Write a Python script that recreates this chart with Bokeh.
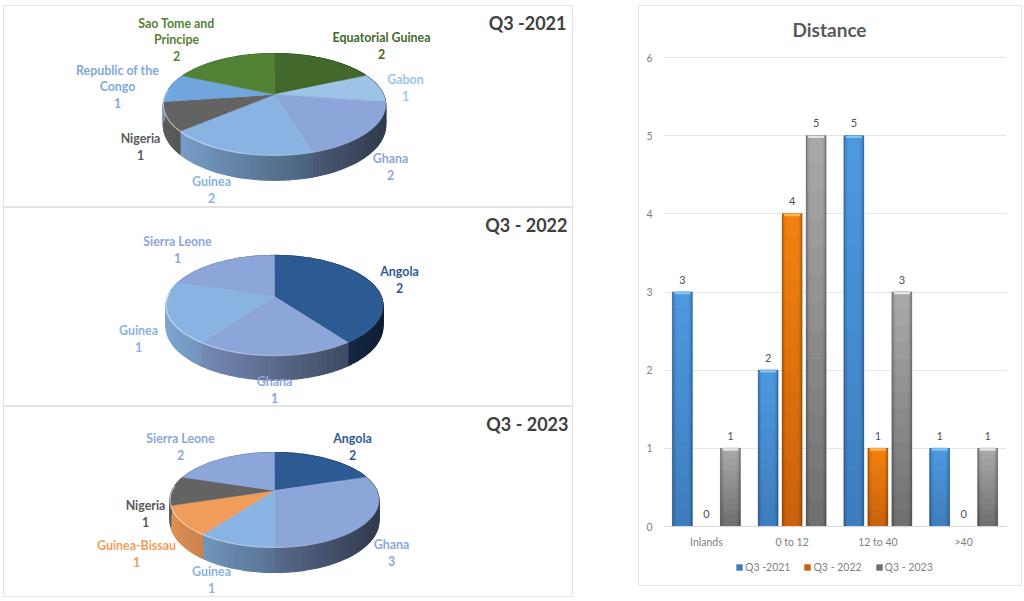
from math import sin, cos, pi

from bokeh.core.properties import value as fixed
from bokeh.embed import file_html
from bokeh.layouts import column, row
from bokeh.models import ColumnDataSource, FactorRange, Label, Legend, LegendItem, Range1d
from bokeh.plotting import figure
from bokeh.resources import INLINE
from bokeh.transform import dodge

FONT = "Lato"
PANEL_EDGE = {"border": "1px solid #e4e4e4"}

# pies, clockwise from 12 o'clock
names_2021 = ["Equatorial Guinea", "Gabon", "Ghana", "Guinea", "Nigeria", "Republic of the\nCongo", "Sao Tome and\nPrincipe"]
values_2021 = [2, 1, 2, 2, 1, 1, 2]
names_2022 = ["Angola", "Ghana", "Guinea", "Sierra Leone"]
values_2022 = [2, 1, 1, 1]
names_2023 = ["Angola", "Ghana", "Guinea", "Guinea-Bissau", "Nigeria", "Sierra Leone"]
values_2023 = [2, 3, 1, 1, 1, 2]

# bars
categories = ["Inlands", "0 to 12", "12 to 40", ">40"]
q3_2021 = [3, 2, 5, 1]
q3_2022 = [0, 4, 1, 0]
q3_2023 = [1, 5, 3, 1]

NAVY, PERI, SKY, PALE, GREY = "#2c5a93", "#8da6da", "#88b3e2", "#9dc3e6", "#636363"
colors_2021 = ["#43682b", PALE, PERI, SKY, GREY, "#70a5dd", "#548235"]
colors_2022 = [NAVY, PERI, SKY, PERI]
colors_2023 = [NAVY, PERI, SKY, "#f09d5c", GREY, PERI]
label_2021 = ["#43682b", PALE, PERI, SKY, "#595959", "#7fa9db", "#548235"]
label_2022 = [NAVY, PERI, SKY, PERI]
label_2023 = [NAVY, PERI, SKY, "#f09d5c", "#595959", PERI]

# where the labels sit on the picture (first line)
spots_2021 = [(381, 37), (405, 79), (390, 158), (211, 181), (140, 138), (117, 70), (176, 23)]
spots_2022 = [(399, 271), (274, 381), (138, 330), (177, 241)]
spots_2023 = [(352, 438), (391, 544), (211, 571), (136, 545), (145, 505), (180, 438)]


def mix(color, factor):
    "darken a hex colour"
    rgb = [int(color[i:i + 2], 16) * factor for i in (1, 3, 5)]
    return "#%02x%02x%02x" % tuple(int(c) for c in rgb)


def blend(a, b, t):
    ca = [int(a[i:i + 2], 16) for i in (1, 3, 5)]
    cb = [int(b[i:i + 2], 16) for i in (1, 3, 5)]
    return "#%02x%02x%02x" % tuple(int(x + (y - x) * t) for x, y in zip(ca, cb))


def pie_panel(title, names, values, colors, label_colors, spots, box, hub, rx, ry, persp, depth, title_at):
    left, top, right, bottom = box
    cx, cy = hub

    def rim(deg):
        a = deg * pi / 180
        s = 1 / (1 + persp * cos(a))
        return cx + rx * sin(a) * s, cy - ry * cos(a) * s, s

    # the css border pushes the canvas one pixel in, hence the +1
    p = figure(width=right - left, height=bottom - top, output_backend="svg", toolbar_location=None,
               x_range=Range1d(left + 1, right + 1), y_range=Range1d(bottom + 1, top + 1),
               min_border=0, x_axis_type=None, y_axis_type=None, styles=PANEL_EDGE)
    p.grid.visible = False
    p.outline_line_color = None

    total = sum(values)
    start = 0
    wall_x, wall_y, wall_c = [], [], []
    rim_x, rim_y, rim_a = [], [], []
    top_x, top_y = [], []
    for value, color in zip(values, colors):
        end = start + 360 * value / total
        n = max(int((end - start) / 2), 1)
        steps = [start + (end - start) * k / n for k in range(n + 1)]
        xs, ys = [cx], [cy]
        for k, d in enumerate(steps):
            x, y, s = rim(d)
            xs.append(x)
            ys.append(y)
            if k == n:
                continue
            x2, y2, s2 = rim(steps[k + 1])
            t = ((x + x2) / 2 - (cx - rx)) / (2 * rx)
            wall_x.append([x, x2, x2, x])
            wall_y.append([y, y2, y2 + depth * s2, y + depth * s])
            wall_c.append(mix(color, 0.92 - 0.56 * t))
            rim_x.append([x, x2])
            rim_y.append([y, y2])
            rim_a.append(max(0.55 * (1 - t), 0.05) if cos(steps[k] * pi / 180) < 0.1 else 0)
        top_x.append(xs)
        top_y.append(ys)
        start = end

    p.patches(wall_x, wall_y, fill_color=wall_c, line_color=wall_c, line_width=1.2)
    p.patches(top_x, top_y, fill_color=colors, line_color=colors, line_width=0.5)
    p.multi_line(rim_x, rim_y, line_color="#ffffff", line_alpha=rim_a, line_width=1.2)

    tx, ty, tt, tc = [], [], [], []
    for name, value, color, (x, y) in zip(names, values, label_colors, spots):
        for i, line in enumerate(name.split("\n") + [str(value)]):
            tx.append(x)
            ty.append(y + i * 16.4)
            tt.append(line)
            tc.append(color)
    p.text(tx, ty, text=tt, text_color=tc, text_font=fixed(FONT), text_font_style="bold",
           text_font_size="12.4px", text_align="center", text_baseline="middle")

    p.text([title_at], [top + 17], text=[title], text_color="#404040", text_font=fixed(FONT),
           text_font_style="bold", text_font_size="18px", text_align="right", text_baseline="middle")
    return p


pie1 = pie_panel("Q3 -2021", names_2021, values_2021, colors_2021, label_2021, spots_2021,
                 (3, 5, 573, 207), (274, 94), 109, 49, 0.196, 20, 566)
pie2 = pie_panel("Q3 - 2022", names_2022, values_2022, colors_2022, label_2022, spots_2022,
                 (3, 207, 573, 406), (274, 296), 106.7, 48.5, 0.18, 20, 567)
pie3 = pie_panel("Q3 - 2023", names_2023, values_2023, colors_2023, label_2023, spots_2023,
                 (3, 406, 573, 597), (274, 490), 102.3, 45.6, 0.2, 20, 568)

# frame runs over the title and legend strips, the category axis stays at zero
bars = figure(width=382, height=579, output_backend="svg", toolbar_location=None,
              x_range=FactorRange(*categories), y_range=Range1d(-0.716, 6.64),
              min_border_left=24, min_border_right=15, min_border_top=1, min_border_bottom=3)
bars.outline_line_color = None
bars.border_fill_color = "white"
bars.xgrid.visible = False
bars.ygrid.grid_line_color = "#e6e6e6"
bars.axis.major_tick_line_color = None
bars.axis.minor_tick_line_color = None
bars.yaxis.axis_line_color = None
bars.xaxis.axis_line_color = "#d9d9d9"
bars.xaxis.fixed_location = 0
bars.axis.major_label_text_color = "#7f7f7f"
bars.axis.major_label_text_font = FONT
bars.axis.major_label_text_font_size = "10.5px"
bars.xaxis.major_label_standoff = 3
bars.yaxis.major_label_standoff = 5
bars.yaxis.ticker = [0, 1, 2, 3, 4, 5, 6]

bars.add_layout(Label(x=166, y=553, x_units="screen", y_units="screen", text="Distance",
                      text_font=FONT, text_font_size="19px", text_font_style="bold",
                      text_color="#595959", text_align="center", text_baseline="middle"))

BAR_WIDTH = 0.233
PITCH = 0.28
series = [("Q3 -2021", q3_2021, -PITCH, "#4f9ae2", "#3f7dbd", "#7fc6f5"),
          ("Q3 - 2022", q3_2022, 0, "#f58210", "#c9620c", "#ffb757"),
          ("Q3 - 2023", q3_2023, PITCH, "#ababab", "#6f6f6f", "#e4e4e4")]
source = ColumnDataSource(dict(cat=categories, q1=q3_2021, q2=q3_2022, q3=q3_2023,
                               t1=[str(v) for v in q3_2021], t2=[str(v) for v in q3_2022],
                               t3=[str(v) for v in q3_2023]))

items = []
for idx, (label, values, offset, top_color, low_color, lip) in enumerate(series):
    x = dodge("cat", offset, range=bars.x_range)
    base = bars.vbar(x=x, top="q%d" % (idx + 1), width=BAR_WIDTH, source=source,
                     fill_color=low_color, line_color=None)
    items.append(LegendItem(label=label, renderers=[base]))

    # shading: dark edges, lighter middle, brighter towards the top, light lip
    for width_part, dark in [(1.0, 0.72), (0.88, 0.88), (0.76, 0.97), (0.6, 1.0)]:
        cats, lows, highs, fills = [], [], [], []
        for cat, v in zip(categories, values):
            if v == 0:
                continue
            for k in range(14):
                cats.append(cat)
                lows.append(v * k / 14)
                highs.append(v * (k + 1) / 14)
                fills.append(mix(blend(low_color, top_color, (k + 0.5) / 14), dark))
        strip = ColumnDataSource(dict(cat=cats, low=lows, high=highs, fill=fills))
        bars.vbar(x=dodge("cat", offset, range=bars.x_range), bottom="low", top="high",
                  width=BAR_WIDTH * width_part, source=strip, fill_color="fill", line_color="fill",
                  line_width=0.4)
    caps = ColumnDataSource(dict(cat=[c for c, v in zip(categories, values) if v > 0],
                                 high=[v for v in values if v > 0],
                                 low=[v - 0.03 for v in values if v > 0]))
    bars.vbar(x=dodge("cat", offset, range=bars.x_range), bottom="low", top="high", source=caps,
              width=BAR_WIDTH * 0.8, fill_color=lip, line_color=None)

    bars.text(x=dodge("cat", offset, range=bars.x_range), y="q%d" % (idx + 1), text="t%d" % (idx + 1),
              source=source, y_offset=-12.5, text_color="#505050", text_font=fixed(FONT), text_font_size="11px",
              text_align="center", text_baseline="middle")

legend = Legend(items=items, orientation="horizontal", location=(72, 9), padding=0, margin=0,
                spacing=13, label_standoff=2, glyph_width=8, glyph_height=8,
                background_fill_alpha=0, border_line_color=None,
                label_text_font=FONT, label_text_font_size="10.5px", label_text_color="#7f7f7f")
bars.add_layout(legend)

holder = column(bars, margin=(0, 0, 0, 65), styles=PANEL_EDGE)
page = row(column(pie1, pie2, pie3), holder, margin=(5, 0, 0, 3))

open("out.html", "w").write(file_html(page, INLINE))
